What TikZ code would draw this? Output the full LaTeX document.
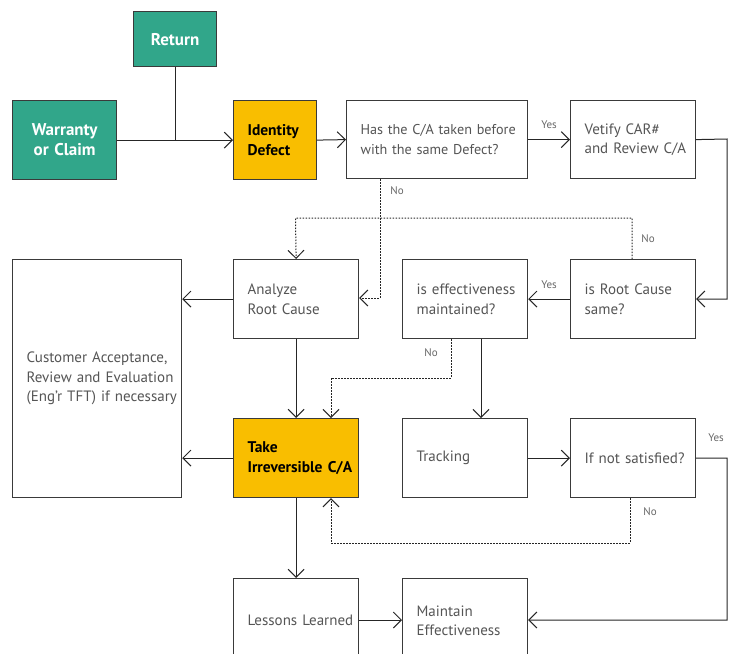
\documentclass[tikz,border=0pt]{standalone}
\usepackage{fontspec}
\setmainfont{PT Sans}
\usetikzlibrary{arrows.meta}
\definecolor{teal}{HTML}{31A68A}
\definecolor{amber}{HTML}{F9BE00}
\definecolor{boxline}{HTML}{3A3A3A}
\definecolor{txt}{HTML}{555555}
\definecolor{lbl}{HTML}{666666}
\newcommand\ml[1]{\mbox{#1}}
\tikzset{
  box/.style={draw=boxline, line width=1.2pt, inner xsep=14pt, inner ysep=0pt, align=left, text=txt,
    font=\fontsize{15}{19.5}\selectfont, anchor=north west, fill=white},
  tealbox/.style={box, fill=teal, text=white, align=center, inner xsep=4pt, font=\fontsize{17}{20}\selectfont\bfseries},
  ambox/.style={box, fill=amber, text=black, font=\fontsize{15.5}{20}\selectfont\bfseries},
  conn/.style={line width=1pt, draw=black!85, -{Straight Barb[length=8pt,width=16pt,line width=1pt]}},
  plain/.style={line width=1pt, draw=black!85},
  dotconn/.style={conn, dash pattern=on 1.5pt off 1.5pt},
  lab/.style={text=lbl, font=\fontsize{11}{12}\selectfont, inner sep=0pt},
}
\begin{document}
\begin{tikzpicture}[x=1pt,y=-1pt]
\useasboundingbox (0,0) rectangle (732,654);
\clip (0,0) rectangle (732,654);
% nodes
\node[tealbox, minimum width=83pt, minimum height=55pt, text width=75pt] (ret) at (133,11) {Return};
\node[tealbox, minimum width=104pt, minimum height=79pt, text width=96pt] (war) at (12,100) {Warranty\\or Claim};
\node[ambox, minimum width=83pt, minimum height=79pt, text width=55pt] (ide) at (233,100) {\ml{Identity}\\Defect};
\node[box, minimum width=181pt, minimum height=78pt, text width=153pt, font=\fontsize{14.2}{19.5}\selectfont] (has) at (346,100) {\ml{Has the C/A taken before}\\\ml{with the same Defect?}};
\node[box, minimum width=125pt, minimum height=78pt, text width=97pt] (vet) at (570,100) {\ml{Vetify CAR\#}\\\ml{and Review C/A}};
\node[box, minimum width=125pt, minimum height=79pt, text width=97pt] (ana) at (233,259) {Analyze\\\ml{Root Cause}};
\node[box, minimum width=169pt, minimum height=238pt, text width=141pt] (cus) at (12,259) {\ml{Customer Acceptance,}\\\ml{Review and Evaluation}\\\ml{(Eng’r TFT) if necessary}};
\node[box, minimum width=125pt, minimum height=79pt, text width=97pt] (eff) at (402,259) {\ml{is effectiveness}\\maintained?};
\node[box, minimum width=125pt, minimum height=79pt, text width=97pt] (rcs) at (570,259) {\ml{is Root Cause}\\same?};
\node[ambox, minimum width=125pt, minimum height=79pt, text width=97pt] (tak) at (233,418) {Take\\\ml{Irreversible C/A}};
\node[box, minimum width=125pt, minimum height=79pt, text width=97pt] (trk) at (402,418) {Tracking};
\node[box, minimum width=125pt, minimum height=79pt, text width=97pt] (ifn) at (570,418) {\ml{If not satisfied?}};
\node[box, minimum width=125pt, minimum height=84pt, text width=97pt] (les) at (233,578) {\ml{Lessons Learned}};
\node[box, minimum width=125pt, minimum height=84pt, text width=97pt] (mai) at (402,578) {Maintain\\\ml{Effectiveness}};
% junction
\coordinate (j) at (ret.south |- war.east);
% connectors
\draw[plain] (ret.south) -- (j);
\draw[conn] (war.east) -- (ide.west);
\draw[conn] (ide.east) -- (has.west);
\draw[conn] (has.east) -- node[lab, above=10pt] {Yes} (vet.west);
\draw[conn] (vet.east) -- (727,139) -- (727,299) -- (rcs.east |- 0,299);
\draw[dotconn] (has.south -| 380,0) -- (380,298) -- (ana.east |- 0,298);
\node[lab] (no1) at (397,191) {No};
\draw[dotconn] (rcs.north -| 632,0) -- (632,218) -- (295.5,218) -- (ana.north);
\node[lab] (no2) at (648,239) {No};
\draw[conn] (rcs.west) -- node[lab, above=10pt] {Yes} (eff.east);
\draw[conn] (ana.west) -- (cus.east |- ana.west);
\draw[conn] (ana.south) -- (tak.north);
\draw[dotconn] (eff.south -| 451,0) -- (451,378) -- (331,378) -- (tak.north -| 331,0);
\node[lab] (no3) at (431,353) {No};
\draw[conn] (eff.south -| 481,0) -- (trk.north -| 481,0);
\draw[conn] (tak.west) -- (cus.east |- tak.west);
\draw[conn] (trk.east) -- (ifn.west);
\draw[conn] (ifn.east) -- (727,458) -- (727,620) -- (mai.east |- 0,620);
\node[lab] (yes3) at (716,438) {Yes};
\draw[dotconn] (ifn.south -| 630,0) -- (630,543) -- (331,543) -- (tak.south -| 331,0);
\node[lab] (no4) at (650,512) {No};
\draw[conn] (tak.south) -- (les.north);
\draw[conn] (les.east |- 0,620) -- (mai.west |- 0,620);
\end{tikzpicture}
\end{document}
